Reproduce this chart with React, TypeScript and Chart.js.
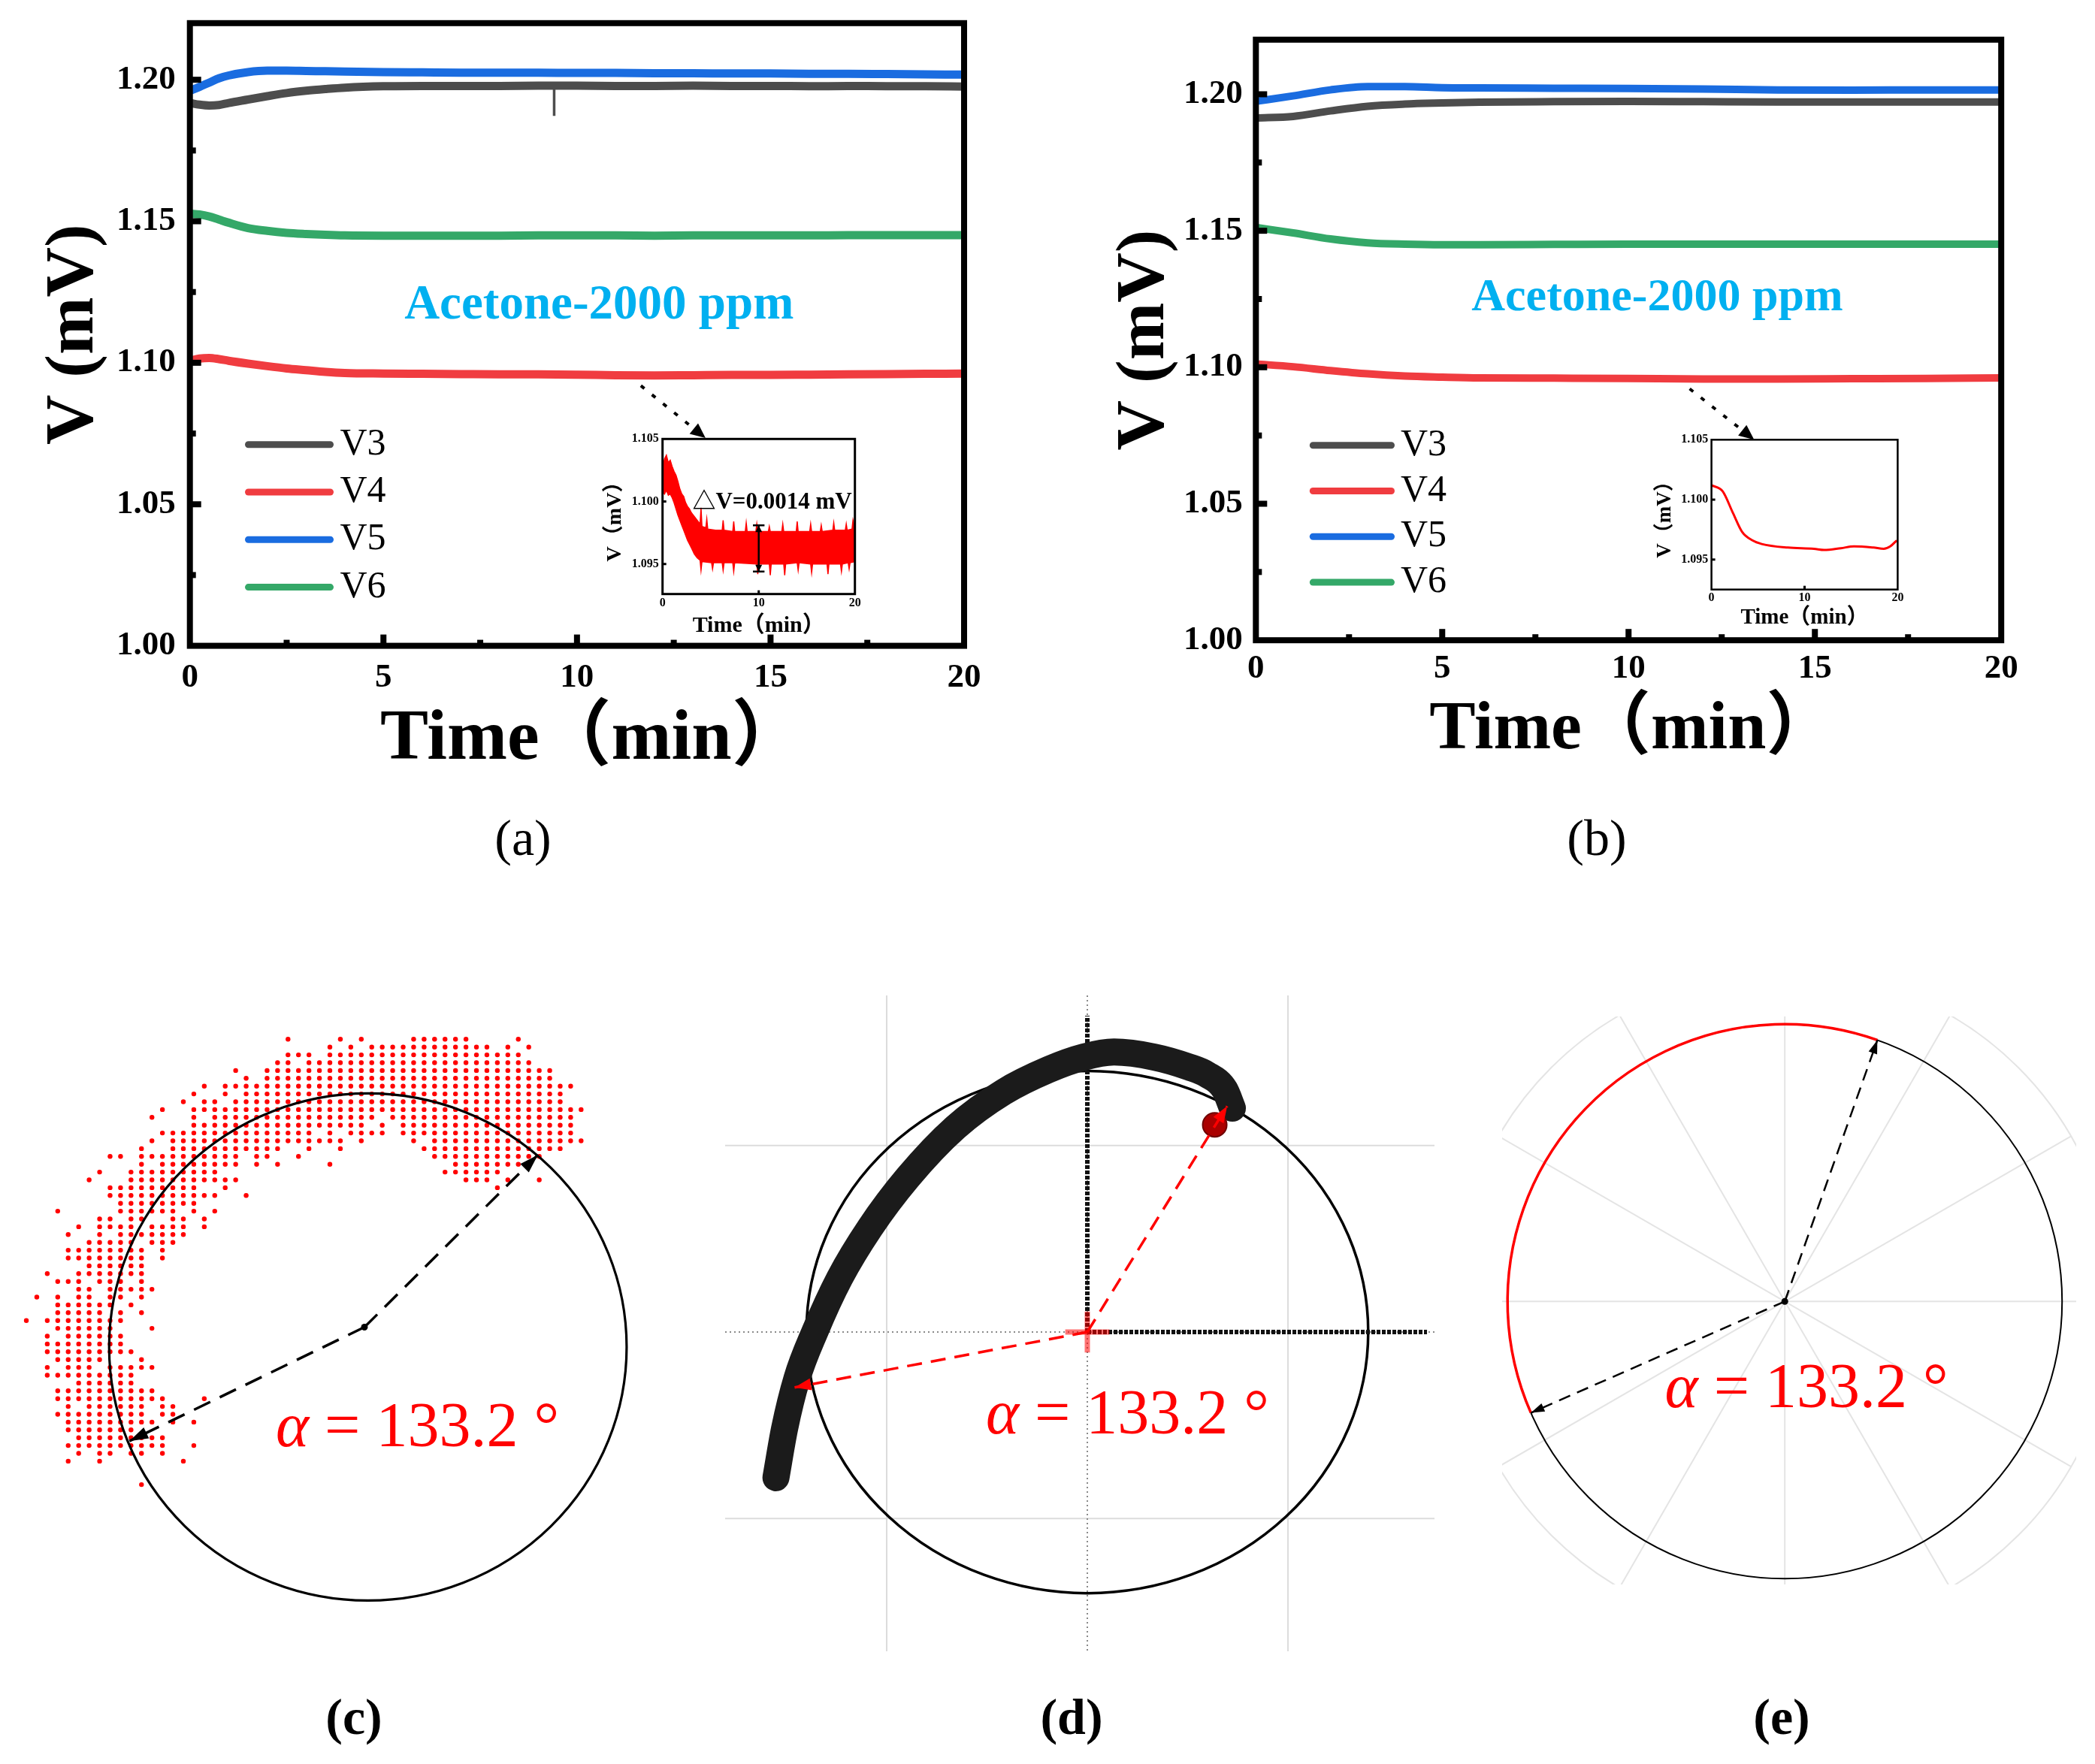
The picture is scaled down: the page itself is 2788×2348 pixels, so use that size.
import React, { useEffect, useRef } from "react";
import { Chart, registerables } from "chart.js";

Chart.register(...registerables);

const SERIF = '"Liberation Serif", "Times New Roman", "Noto Sans CJK SC", serif';

/* ================= (a) noisy sensor voltages ================= */
const timeA = [0, 0.25, 0.5, 0.75, 1, 1.5, 2, 2.5, 3, 3.5, 4, 5, 6, 7, 8, 9, 10, 11, 12, 13, 14, 15, 16, 17, 18, 19, 20];
const v3A = [1.1918, 1.1912, 1.1909, 1.1911, 1.1918, 1.193, 1.1942, 1.1953, 1.1961, 1.1967, 1.1972, 1.1977, 1.1978, 1.1978, 1.1978, 1.1979, 1.1979, 1.1978, 1.1978, 1.1979, 1.1978, 1.1978, 1.1977, 1.1978, 1.1977, 1.1977, 1.1976];
const v4A = [1.1007, 1.1015, 1.1017, 1.1013, 1.1007, 1.0997, 1.0988, 1.098, 1.0974, 1.0968, 1.0964, 1.0962, 1.0961, 1.096, 1.0959, 1.0959, 1.0958, 1.0956, 1.0955, 1.0956, 1.0957, 1.0957, 1.0958, 1.0959, 1.096, 1.0961, 1.0962];
const v5A = [1.1961, 1.1975, 1.199, 1.2005, 1.2015, 1.2027, 1.2032, 1.2032, 1.2031, 1.203, 1.2029, 1.2027, 1.2026, 1.2025, 1.2025, 1.2025, 1.2024, 1.2024, 1.2023, 1.2023, 1.2022, 1.2022, 1.2021, 1.2021, 1.202, 1.2019, 1.2018];
const v6A = [1.1527, 1.1524, 1.1517, 1.1506, 1.1495, 1.1476, 1.1466, 1.1459, 1.1455, 1.1452, 1.145, 1.1449, 1.1449, 1.1449, 1.1449, 1.145, 1.145, 1.145, 1.1449, 1.145, 1.145, 1.145, 1.145, 1.1451, 1.1451, 1.1451, 1.1451];
const spikeTimeA = [9.41, 9.41];
const spikeV3A = [1.1979, 1.1872];
const connTA = [11.65, 13.32];
const connVA = [1.0919, 1.0734];

/* (a) inset: V4 noise band (upper / lower envelope) */
const insetUpperT = [0, 0.2, 0.4, 0.6, 0.8, 1.0, 1.2, 1.4, 1.6, 1.8, 2.0, 2.2, 2.4, 2.6, 2.8, 3.0, 3.3, 3.6, 3.9, 4.0, 4.1, 4.5, 4.6, 4.7, 5.5, 6.2, 6.3, 6.4, 7.3, 7.4, 7.5, 8.6, 8.7, 8.8, 9.7, 9.8, 9.9, 11.0, 11.1, 11.2, 12.4, 12.5, 12.6, 13.9, 14.0, 14.1, 15.3, 15.4, 15.5, 16.4, 16.5, 16.6, 17.7, 17.8, 17.9, 19.0, 19.1, 19.2, 19.7, 19.8, 20.0];
const insetUpperV = [1.1026, 1.1034, 1.1037, 1.1031, 1.1033, 1.1028, 1.1024, 1.1021, 1.1016, 1.101, 1.1006, 1.1004, 1.0999, 1.0996, 1.0994, 1.0991, 1.0988, 1.0985, 1.0982, 1.0995, 1.098, 1.0979, 1.0986, 1.0978, 1.0977, 1.0977, 1.0985, 1.0977, 1.0976, 1.0984, 1.0976, 1.0976, 1.0983, 1.0976, 1.0976, 1.0982, 1.0976, 1.0976, 1.098, 1.0976, 1.0976, 1.0982, 1.0976, 1.0976, 1.0984, 1.0976, 1.0976, 1.0982, 1.0976, 1.0976, 1.0981, 1.0976, 1.0977, 1.0983, 1.0977, 1.0977, 1.0982, 1.0977, 1.0978, 1.0985, 1.0978];
const insetLowerT = [0, 0.2, 0.4, 0.6, 0.8, 1.0, 1.2, 1.4, 1.6, 1.8, 2.0, 2.2, 2.4, 2.6, 2.8, 3.0, 3.3, 3.6, 3.9, 4.0, 4.1, 5.1, 5.2, 5.3, 6.2, 6.3, 6.4, 7.3, 7.4, 7.5, 9.8, 9.9, 10.0, 11.1, 11.2, 11.3, 12.6, 12.7, 12.8, 14.0, 14.1, 14.2, 15.4, 15.5, 15.6, 17.1, 17.2, 17.3, 18.5, 18.6, 18.7, 19.3, 19.4, 19.5, 20.0];
const insetLowerV = [1.1008, 1.1006, 1.1009, 1.1005, 1.1006, 1.1003, 1.0999, 1.0994, 1.0989, 1.0985, 1.0981, 1.0977, 1.0973, 1.0969, 1.0966, 1.0963, 1.0958, 1.0955, 1.0953, 1.0945, 1.0952, 1.0951, 1.0946, 1.0951, 1.0951, 1.0945, 1.0951, 1.0951, 1.0944, 1.0951, 1.095, 1.0942, 1.095, 1.095, 1.0941, 1.095, 1.095, 1.0941, 1.095, 1.0951, 1.0945, 1.0951, 1.095, 1.0943, 1.095, 1.095, 1.0942, 1.095, 1.095, 1.0944, 1.095, 1.0951, 1.0946, 1.0951, 1.0952];
const deltaBarT = [10, 10];
const deltaBarV = [1.0981, 1.0944];
const deltaLabel = "△V=0.0014 mV";
const deltaLabelAt = [3.1, 1.0999];

/* ================= (b) filtered sensor voltages ================= */
const timeB = [0, 1, 2, 3, 4, 5, 6, 8, 10, 12, 14, 16, 18, 20];
const v3B = [1.1913, 1.1919, 1.1939, 1.1956, 1.1964, 1.1968, 1.1971, 1.1973, 1.1974, 1.1973, 1.1972, 1.1972, 1.1972, 1.1972];
const v4B = [1.1012, 1.1002, 1.0988, 1.0976, 1.0968, 1.0964, 1.0961, 1.096, 1.0959, 1.0957, 1.0957, 1.0958, 1.0959, 1.0961];
const v5B = [1.1974, 1.1994, 1.2016, 1.2028, 1.2028, 1.2024, 1.2023, 1.2022, 1.2021, 1.2019, 1.2016, 1.2015, 1.2016, 1.2016];
const v6B = [1.1512, 1.1492, 1.147, 1.1456, 1.1451, 1.1449, 1.1449, 1.145, 1.1451, 1.1451, 1.1451, 1.1451, 1.1451, 1.1451];
const connTB = [11.64, 13.37];
const connVB = [1.0921, 1.0735];
const insetBT = [0, 1.2, 2.3, 3.3, 4.4, 5.4, 8.2, 11, 12.1, 13.9, 15.3, 17.4, 18.5, 19.2, 19.9];
const insetBV = [1.1012, 1.1007, 1.0989, 1.0973, 1.0966, 1.0963, 1.096, 1.0959, 1.0958, 1.09595, 1.0961, 1.096, 1.0959, 1.0961, 1.0966];

/* ================= common axis data ================= */
const seriesNames = ["V3", "V4", "V5", "V6"];
const seriesColors = ["#4d4d4d", "#f03c40", "#1a6ce0", "#34a868"];
const yTicksMain = [1.0, 1.05, 1.1, 1.15, 1.2];
const yMinorMain = [1.025, 1.075, 1.125, 1.175];
const xTicksMain = [0, 5, 10, 15, 20];
const xMinorMain = [2.5, 7.5, 12.5, 17.5];
const yTicksInset = [1.095, 1.1, 1.105];
const xTicksInset = [0, 10, 20];
const gasLabel = "Acetone-2000 ppm";
const xTitle = "Time（min）";
const yTitle = "V (mV)";
const yTitleInset = "V（mV）";

/* ================= (c) raw 2-D signal lattice (row -> columns) ================= */
const cRows = [
  "0,5,7,12:17,22",
  "4,6,8:19,21,23",
  "0:2,4:22",
  "-1,0,2:23",
  "-5,-2:25",
  "-4,-2:25",
  "-8,-6:27",
  "-9,-6,-4:26",
  "-10,-8,-7,-5:26",
  "-12,-9:28",
  "-13,-9,-7:8,10:27",
  "-9:7,9,11:27",
  "-12:2,4,6:9,11:27",
  "-13,-11:5,7,12,14:28",
  "-14,-11:-1,2,5,13:26",
  "-17,-16,-14:-5,-3,-2,1,14:24",
  "-14,-12:-5,-3,-1,4,16:22",
  "-18,-15:-7,15:20",
  "-19,-15:-5,17:19,21,24",
  "-17:-9,-6,20",
  "-17:-7,-4",
  "-16:-9",
  "-22,-16:-11,-9,-7",
  "-18,-17,-15,-14,-11,-10,-8",
  "-20,-18:-15,-13:-10,-8",
  "-21,-18,-16:-10",
  "-19:-15,-13:-11",
  "-21:-14,-12",
  "-21:-14,-12",
  "-19:-14",
  "-23,-20:-14",
  "-22:-20,-18:-16,-14",
  "-20,-19,-17:-13",
  "-24,-22,-20,-19,-17,-16,-14",
  "-22:-17,-15",
  "-22:-18,-16,-14",
  "-25,-23:-16",
  "-22:-17,-13",
  "-23,-21:-16",
  "-23:-16",
  "-23:-15",
  "-22:-18,-14",
  "-23,-21:-19,-17:-13",
  "-23:-15",
  "-20:-15",
  "-22:-13",
  "-22:-12,-8",
  "-21,-19:-14,-12,-11",
  "-22:-14,-12,-11",
  "-21:-13,-11,-9",
  "-21:-15",
  "-20:-12",
  "-21:-12,-9",
  "-20,-18,-17,-15,-14,-12",
  "-21,-18,-10",
  "",
  "",
  "-14",
];
const cFitCenter = [7.63, 39.39];
const cFitRadii = [24.72, 32.45];
const cPivot = [7.3, 36.85];
const cTipA = [23.87, 14.81];
const cTipB = [-15.15, 51.43];

/* ================= (d) trajectory ================= */
const dTrajX = [-1.552, -1.509, -1.447, -1.359, -1.234, -1.083, -0.895, -0.657, -0.418, -0.193, -0.017, 0.133, 0.334, 0.509, 0.597, 0.685, 0.723];
const dTrajY = [-0.781, -0.518, -0.248, -0.001, 0.29, 0.559, 0.828, 1.097, 1.286, 1.407, 1.474, 1.501, 1.474, 1.42, 1.38, 1.299, 1.2];
const dEndPoint = [0.635, 1.111];
const dCircleR = 1.4;
const dTipA = [0.697, 1.211];
const dTipB = [-1.459, -0.297];
const dGrid = [-1, 0, 1];
const dPosAxisEnd = [1.693, 1.696];
const dCrossArm = 0.11;

/* ================= (e) angle ================= */
const alphaDeg = 133.2;
const eArcStartDeg = 70.5;
const eCircleR = 1;
const eGridR = 1.192;
const eSpokeStep = 30;

/* ================= helpers ================= */
const xy = (xs: number[], ys: number[]) => xs.map((x, i) => ({ x, y: ys[i] }));

function expandRuns(spec: string): number[] {
  if (!spec) return [];
  const out: number[] = [];
  for (const part of spec.split(",")) {
    const m = part.match(/^(-?\d+):(-?\d+)$/);
    if (m) {
      for (let k = +m[1]; k <= +m[2]; k++) out.push(k);
    } else out.push(+part);
  }
  return out;
}
const cDots = cRows.flatMap((spec, r) => expandRuns(spec).map((k) => ({ x: k, y: r })));

function seg(ctx: CanvasRenderingContext2D, a: number, b: number, c: number, d: number) {
  ctx.beginPath();
  ctx.moveTo(a, b);
  ctx.lineTo(c, d);
  ctx.stroke();
}

function arrowHead(ctx: CanvasRenderingContext2D, x1: number, y1: number, x2: number, y2: number, len: number, half: number, color: string) {
  const ang = Math.atan2(y2 - y1, x2 - x1);
  const c = Math.cos(ang), s = Math.sin(ang);
  ctx.save();
  ctx.setLineDash([]);
  ctx.fillStyle = color;
  ctx.beginPath();
  ctx.moveTo(x2, y2);
  ctx.lineTo(x2 - len * c + half * s, y2 - len * s - half * c);
  ctx.lineTo(x2 - len * c - half * s, y2 - len * s + half * c);
  ctx.closePath();
  ctx.fill();
  ctx.restore();
}

function makeDecor(cfg: any) {
  return {
    id: "decor",
    beforeDatasetsDraw(chart: any) {
      if (cfg.before) {
        chart.ctx.save();
        cfg.before(chart, chart.ctx);
        chart.ctx.restore();
      }
    },
    afterDatasetDraw(chart: any, args: any) {
      if (cfg.afterDataset) {
        chart.ctx.save();
        cfg.afterDataset(chart, chart.ctx, args.index);
        chart.ctx.restore();
      }
    },
    afterDatasetsDraw(chart: any) {
      const ctx = chart.ctx;
      ctx.save();
      if (cfg.after) cfg.after(chart, ctx);
      chart.data.datasets.forEach((ds: any, i: number) => {
        if (!ds.arrowHead) return;
        const pts = chart.getDatasetMeta(i).data;
        const p1 = pts[pts.length - 2], p2 = pts[pts.length - 1];
        arrowHead(ctx, p1.x, p1.y, p2.x, p2.y, ds.arrowHead.len, ds.arrowHead.half, ds.borderColor);
      });
      ctx.restore();
    },
  };
}

function frame(ctx: CanvasRenderingContext2D, ca: any, lw: number) {
  ctx.save();
  ctx.setLineDash([]);
  ctx.strokeStyle = "#000";
  ctx.lineWidth = lw;
  ctx.strokeRect(ca.left, ca.top, ca.right - ca.left, ca.bottom - ca.top);
  ctx.restore();
}

function inwardTicks(ctx: CanvasRenderingContext2D, chart: any, t: any) {
  const { chartArea: ca, scales } = chart;
  const x = scales.x, y = scales.y;
  ctx.save();
  ctx.strokeStyle = "#000";
  ctx.lineWidth = t.width;
  ctx.lineCap = "butt";
  ctx.setLineDash([]);
  t.xMajor.forEach((v: number) => { const p = x.getPixelForValue(v); seg(ctx, p, ca.bottom, p, ca.bottom - t.major); });
  t.xMinor.forEach((v: number) => { const p = x.getPixelForValue(v); seg(ctx, p, ca.bottom, p, ca.bottom - t.minor); });
  t.yMajor.forEach((v: number) => { const p = y.getPixelForValue(v); seg(ctx, ca.left, p, ca.left + t.major, p); });
  t.yMinor.forEach((v: number) => { const p = y.getPixelForValue(v); seg(ctx, ca.left, p, ca.left + t.minor, p); });
  ctx.restore();
}

function alphaLabel(ctx: CanvasRenderingContext2D, x: number, y: number, size: number) {
  ctx.save();
  ctx.fillStyle = "#ff0000";
  ctx.textAlign = "left";
  ctx.textBaseline = "alphabetic";
  ctx.font = `italic ${size}px ${SERIF}`;
  ctx.fillText("α", x, y);
  const w = ctx.measureText("α").width;
  ctx.font = `${size}px ${SERIF}`;
  ctx.fillText(` = ${alphaDeg} °`, x + w, y);
  ctx.restore();
}

const baseOpts = {
  animation: false,
  responsive: false,
  maintainAspectRatio: false,
  devicePixelRatio: 1,
  events: [],
};

/* ================= main panels (a)/(b) ================= */
function mainConfig(series: { t: number[]; v: number[] }[], extra: any[], conn: { t: number[]; v: number[] }, L: any) {
  const datasets: any[] = series.map((s, i) => ({
    data: xy(s.t, s.v),
    borderColor: seriesColors[i],
    borderWidth: L.lineWidth,
    pointRadius: 0,
    cubicInterpolationMode: "monotone",
    borderCapStyle: "round",
    borderJoinStyle: "round",
    fill: false,
    order: 2,
  }));
  datasets.push(...extra);
  datasets.push({
    data: xy(conn.t, conn.v),
    borderColor: "#000",
    borderWidth: 4,
    borderDash: [6, 13],
    pointRadius: 0,
    fill: false,
    arrowHead: { len: 20, half: 9 },
    order: 0,
  });
  return {
    type: "line",
    data: { datasets },
    options: {
      ...baseOpts,
      layout: { autoPadding: false, padding: { left: 0, top: L.padTop, right: L.padRight, bottom: 0 } },
      plugins: { legend: { display: false }, tooltip: { enabled: false } },
      scales: {
        x: {
          type: "linear",
          min: 0,
          max: 20,
          afterBuildTicks: (s: any) => { s.ticks = xTicksMain.map((v) => ({ value: v })); },
          afterFit: (s: any) => { s.height = L.xH; s.paddingLeft = 0; s.paddingRight = 0; },
          grid: { display: false, drawTicks: false },
          border: { display: false },
          ticks: { color: "#000", padding: L.xTickPad, maxRotation: 0, autoSkip: false, font: { family: SERIF, size: 45, weight: "bold", lineHeight: 1 }, callback: (v: any) => String(v) },
          title: { display: false, text: xTitle },
        },
        y: {
          type: "linear",
          min: 1.0,
          max: 1.22,
          afterBuildTicks: (s: any) => { s.ticks = yTicksMain.map((v) => ({ value: v })); },
          afterFit: (s: any) => { s.width = L.yW; s.paddingTop = 0; s.paddingBottom = 0; },
          grid: { display: false, drawTicks: false },
          border: { display: false },
          ticks: { color: "#000", padding: L.yTickPad, autoSkip: false, font: { family: SERIF, size: 45, weight: "bold", lineHeight: 1 }, callback: (v: any) => Number(v).toFixed(2) },
          title: { display: true, text: yTitle, color: "#000", font: { family: SERIF, size: 92, weight: "bold", lineHeight: 1 }, padding: { top: L.yTitlePad, bottom: 0 } },
        },
      },
    },
    plugins: [
      makeDecor({
        after(chart: any, ctx: CanvasRenderingContext2D) {
          const ca = chart.chartArea;
          const { x, y } = chart.scales;
          frame(ctx, ca, 8);
          inwardTicks(ctx, chart, {
            xMajor: xTicksMain.slice(1, -1), xMinor: xMinorMain,
            yMajor: yTicksMain.slice(1), yMinor: yMinorMain,
            major: 15, minor: 8, width: 8,
          });
          // x-axis title
          ctx.save();
          ctx.fillStyle = "#000";
          ctx.font = `bold ${L.xTitleSize}px ${SERIF}`;
          ctx.textAlign = "center";
          ctx.textBaseline = "middle";
          ctx.fillText(xTitle, (ca.left + ca.right) / 2 + L.xTitleDx, L.xTitleY);
          ctx.restore();
          // legend
          seriesNames.forEach((name, i) => {
            const yy = ca.top + L.legend.top + i * L.legend.gap;
            const x0 = ca.left + L.legend.left;
            const x1 = x0 + L.legend.len;
            ctx.save();
            ctx.strokeStyle = seriesColors[i];
            ctx.lineWidth = 9;
            ctx.lineCap = "round";
            seg(ctx, x0, yy, x1, yy);
            ctx.fillStyle = "#000";
            ctx.font = `50px ${SERIF}`;
            ctx.textAlign = "left";
            ctx.textBaseline = "middle";
            ctx.fillText(name, x1 + L.legend.textGap, yy);
            ctx.restore();
          });
          // gas label
          ctx.save();
          ctx.fillStyle = "#00B0F0";
          ctx.font = `bold ${L.gasSize}px ${SERIF}`;
          ctx.textAlign = "center";
          ctx.textBaseline = "middle";
          ctx.fillText(gasLabel, x.getPixelForValue(L.gasAt[0]), y.getPixelForValue(L.gasAt[1]));
          ctx.restore();
        },
      }),
    ],
  };
}

function insetConfig(datasets: any[], L: any, extraDraw?: (chart: any, ctx: CanvasRenderingContext2D) => void) {
  return {
    type: "line",
    data: { datasets },
    options: {
      ...baseOpts,
      layout: { autoPadding: false, padding: { left: 0, top: L.padTop, right: L.padRight, bottom: 0 } },
      plugins: { legend: { display: false }, tooltip: { enabled: false } },
      scales: {
        x: {
          type: "linear",
          min: 0,
          max: 20,
          afterBuildTicks: (s: any) => { s.ticks = xTicksInset.map((v) => ({ value: v })); },
          afterFit: (s: any) => { s.height = L.xH; s.paddingLeft = 0; s.paddingRight = 0; },
          grid: { display: false, drawTicks: false },
          border: { display: false },
          ticks: { color: "#000", padding: L.xTickPad, maxRotation: 0, autoSkip: false, font: { family: SERIF, size: 16, weight: "bold", lineHeight: 1 }, callback: (v: any) => String(v) },
          title: { display: true, text: xTitle, color: "#000", font: { family: SERIF, size: L.titleSize, weight: "bold", lineHeight: 1 }, padding: { top: 0, bottom: L.xTitlePad } },
        },
        y: {
          type: "linear",
          min: L.yMin,
          max: 1.105,
          afterBuildTicks: (s: any) => { s.ticks = yTicksInset.map((v) => ({ value: v })); },
          afterFit: (s: any) => { s.width = L.yW; s.paddingTop = 0; s.paddingBottom = 0; },
          grid: { display: false, drawTicks: false },
          border: { display: false },
          ticks: { color: "#000", padding: L.yTickPad, autoSkip: false, font: { family: SERIF, size: 16, weight: "bold", lineHeight: 1 }, callback: (v: any) => Number(v).toFixed(3) },
          title: { display: true, text: yTitleInset, color: "#000", font: { family: SERIF, size: L.yTitleSize, weight: "bold", lineHeight: 1 }, padding: { top: L.yTitlePad, bottom: 0 } },
        },
      },
    },
    plugins: [
      makeDecor({
        after(chart: any, ctx: CanvasRenderingContext2D) {
          frame(ctx, chart.chartArea, L.frameW);
          inwardTicks(ctx, chart, { xMajor: [10], xMinor: [], yMajor: [1.095, 1.1], yMinor: [], major: 5, minor: 3, width: 3 });
          if (extraDraw) extraDraw(chart, ctx);
        },
      }),
    ],
  };
}

function configA() {
  return mainConfig(
    [v3A, v4A, v5A, v6A].map((v) => ({ t: timeA, v })),
    [{ data: xy(spikeTimeA, spikeV3A), borderColor: seriesColors[0], borderWidth: 3.5, pointRadius: 0, fill: false, order: 2 }],
    { t: connTA, v: connVA },
    {
      padTop: 30.8, padRight: 117, yW: 252.7, xH: 200.4,
      xTickPad: 20, yTickPad: 19, xTitleSize: 96, xTitleDx: 20, xTitleY: 985, yTitlePad: 53, lineWidth: 11,
      legend: { left: 77.8, top: 560.9, len: 109, gap: 63.3, textGap: 13 },
      gasAt: [10.57, 1.1202], gasSize: 65,
    }
  );
}

function configB() {
  return mainConfig(
    [v3B, v4B, v5B, v6B].map((v) => ({ t: timeB, v })),
    [],
    { t: connTB, v: connVB },
    {
      padTop: 52.8, padRight: 124.8, yW: 251.3, xH: 207.8,
      xTickPad: 16, yTickPad: 17.5, xTitleSize: 92, xTitleDx: 5, xTitleY: 972, yTitlePad: 58.7, lineWidth: 10,
      legend: { left: 76, top: 539.9, len: 104.2, gap: 60.8, textGap: 12.5 },
      gasAt: [10.77, 1.1254], gasSize: 62,
    }
  );
}

const errCapHalf = 0.6;
function configAInset() {
  const mid = (deltaBarV[0] + deltaBarV[1]) / 2;
  const bar = { borderColor: "#000", borderWidth: 2.5, pointRadius: 0, fill: false, order: 0 };
  return insetConfig(
    [
      { data: xy(insetUpperT, insetUpperV), borderColor: "#ff0000", backgroundColor: "#ff0000", borderWidth: 1.5, pointRadius: 0, fill: "+1", order: 1 },
      { data: xy(insetLowerT, insetLowerV), borderColor: "#ff0000", borderWidth: 1.5, pointRadius: 0, fill: false, order: 1 },
      { ...bar, data: xy([deltaBarT[0], deltaBarT[0]], [mid, deltaBarV[0]]), arrowHead: { len: 9, half: 4.5 } },
      { ...bar, data: xy([deltaBarT[1], deltaBarT[1]], [mid, deltaBarV[1]]), arrowHead: { len: 9, half: 4.5 } },
      { ...bar, data: xy([deltaBarT[0] - errCapHalf, deltaBarT[0] + errCapHalf], [deltaBarV[0], deltaBarV[0]]) },
      { ...bar, data: xy([deltaBarT[1] - errCapHalf, deltaBarT[1] + errCapHalf], [deltaBarV[1], deltaBarV[1]]) },
    ],
    {
      padTop: 24.3, padRight: 42.3, yW: 101.7, xH: 69.3, yMin: 1.0926,
      xTickPad: 4.6, yTickPad: 5, xTitlePad: 12, yTitlePad: 25, titleSize: 30, yTitleSize: 28, frameW: 3,
    },
    (chart, ctx) => {
      const { x, y } = chart.scales;
      ctx.save();
      ctx.fillStyle = "#000";
      ctx.font = `bold 31px ${SERIF}`;
      ctx.textAlign = "left";
      ctx.textBaseline = "middle";
      ctx.fillText(deltaLabel, x.getPixelForValue(deltaLabelAt[0]), y.getPixelForValue(deltaLabelAt[1]));
      ctx.restore();
    }
  );
}

function configBInset() {
  return insetConfig(
    [{ data: xy(insetBT, insetBV), borderColor: "#ff0000", borderWidth: 3, pointRadius: 0, cubicInterpolationMode: "monotone", fill: false }],
    {
      padTop: 25.3, padRight: 54.6, yW: 97.6, xH: 75.3, yMin: 1.0925,
      xTickPad: 3, yTickPad: 4.3, xTitlePad: 23, yTitlePad: 23, titleSize: 29, yTitleSize: 27, frameW: 2.5,
    }
  );
}

/* ================= (c) ================= */
function hiddenScales(xMin: number, xMax: number, yMin: number, yMax: number, reverseY = false) {
  return {
    x: { type: "linear", display: false, min: xMin, max: xMax },
    y: { type: "linear", display: false, min: yMin, max: yMax, reverse: reverseY },
  };
}

const hiddenLayout = { autoPadding: false, padding: 0 };

function configC() {
  const dash = { showLine: true, borderColor: "#000", borderWidth: 3.5, borderDash: [24, 14], pointRadius: 0, fill: false, order: 0 };
  return {
    type: "scatter",
    data: {
      datasets: [
        { data: cDots, pointRadius: 3.2, backgroundColor: "#ff0000", borderWidth: 0, order: 5 },
        { ...dash, data: [{ x: cPivot[0], y: cPivot[1] }, { x: cTipA[0], y: cTipA[1] }], arrowHead: { len: 25, half: 8 } },
        { ...dash, data: [{ x: cPivot[0], y: cPivot[1] }, { x: cTipB[0], y: cTipB[1] }], arrowHead: { len: 25, half: 8 } },
        { data: [{ x: cPivot[0], y: cPivot[1] }], pointRadius: 4.5, backgroundColor: "#000", borderWidth: 0, order: 0 },
      ],
    },
    options: {
      ...baseOpts,
      layout: hiddenLayout,
      plugins: { legend: { display: false }, tooltip: { enabled: false } },
      scales: hiddenScales(-27.516, 37.093, -4.163, 74.683, true),
    },
    plugins: [
      makeDecor({
        afterDataset(chart: any, ctx: CanvasRenderingContext2D, index: number) {
          if (index !== 0) return;
          const { x, y } = chart.scales;
          const cx = x.getPixelForValue(cFitCenter[0]);
          const cy = y.getPixelForValue(cFitCenter[1]);
          const rx = Math.abs(x.getPixelForValue(cFitCenter[0] + cFitRadii[0]) - cx);
          const ry = Math.abs(y.getPixelForValue(cFitCenter[1] + cFitRadii[1]) - cy);
          ctx.strokeStyle = "#000";
          ctx.lineWidth = 3.2;
          ctx.beginPath();
          ctx.ellipse(cx, cy, rx, ry, 0, 0, Math.PI * 2);
          ctx.stroke();
        },
        after(chart: any, ctx: CanvasRenderingContext2D) {
          const { x, y } = chart.scales;
          alphaLabel(ctx, x.getPixelForValue(-1.17), y.getPixelForValue(52.09), 84);
        },
      }),
    ],
  };
}

/* ================= (d) ================= */
function configD() {
  const red = { showLine: true, borderColor: "#ff0000", borderWidth: 3.5, borderDash: [20, 12], pointRadius: 0, fill: false, order: 0 };
  const cross = { showLine: true, borderColor: "rgba(255,0,0,0.55)", borderWidth: 7, pointRadius: 0, fill: false, order: 1 };
  const posAxis = { showLine: true, borderColor: "#111", borderWidth: 6, borderDash: [5, 2], pointRadius: 0, fill: false, order: 4 };
  return {
    type: "scatter",
    data: {
      datasets: [
        { ...posAxis, data: [{ x: 0, y: 0 }, { x: 0, y: dPosAxisEnd[1] }] },
        { ...posAxis, data: [{ x: 0, y: 0 }, { x: dPosAxisEnd[0], y: 0 }] },
        { data: xy(dTrajX, dTrajY), showLine: true, borderColor: "#1b1b1b", borderWidth: 36, borderCapStyle: "round", borderJoinStyle: "round", cubicInterpolationMode: "monotone", pointRadius: 0, fill: false, order: 3 },
        { data: [{ x: dEndPoint[0], y: dEndPoint[1] }], pointRadius: 16, backgroundColor: "rgb(170,0,0)", borderColor: "rgb(110,0,0)", borderWidth: 2, order: 2 },
        { ...cross, data: [{ x: -dCrossArm, y: 0 }, { x: dCrossArm, y: 0 }] },
        { ...cross, data: [{ x: 0, y: dCrossArm }, { x: 0, y: -dCrossArm }] },
        { ...red, data: [{ x: 0, y: 0 }, { x: dTipA[0], y: dTipA[1] }], arrowHead: { len: 22, half: 8 } },
        { ...red, data: [{ x: 0, y: 0 }, { x: dTipB[0], y: dTipB[1] }], arrowHead: { len: 22, half: 8 } },
      ],
    },
    options: {
      ...baseOpts,
      layout: hiddenLayout,
      plugins: { legend: { display: false }, tooltip: { enabled: false } },
      scales: hiddenScales(-1.8052, 1.7303, -1.7116, 1.8043),
    },
    plugins: [
      makeDecor({
        before(chart: any, ctx: CanvasRenderingContext2D) {
          const ca = chart.chartArea;
          const { x, y } = chart.scales;
          dGrid.forEach((g) => {
            ctx.strokeStyle = g === 0 ? "#8a8a8a" : "#dcdcdc";
            ctx.lineWidth = 2;
            ctx.setLineDash(g === 0 ? [2, 4] : []);
            const px = x.getPixelForValue(g);
            seg(ctx, px, ca.top, px, ca.bottom);
            const py = y.getPixelForValue(g);
            seg(ctx, ca.left, py, ca.right, py);
          });
          ctx.setLineDash([]);
          const cx = x.getPixelForValue(0), cy = y.getPixelForValue(0);
          const rx = x.getPixelForValue(dCircleR) - cx;
          const ry = cy - y.getPixelForValue(dCircleR);
          ctx.strokeStyle = "#000";
          ctx.lineWidth = 3.5;
          ctx.beginPath();
          ctx.ellipse(cx, cy, rx, ry, 0, 0, Math.PI * 2);
          ctx.stroke();
        },
        after(chart: any, ctx: CanvasRenderingContext2D) {
          const { x, y } = chart.scales;
          alphaLabel(ctx, x.getPixelForValue(-0.506), y.getPixelForValue(-0.544), 84);
        },
      }),
    ],
  };
}

/* ================= (e) ================= */
function configE() {
  const rad = (d: number) => (d * Math.PI) / 180;
  const endA = eArcStartDeg, endB = eArcStartDeg + alphaDeg;
  const dash = { showLine: true, borderColor: "#000", borderWidth: 2.5, borderDash: [16, 10], pointRadius: 0, fill: false, order: 0 };
  return {
    type: "scatter",
    data: {
      datasets: [
        { ...dash, data: [{ x: 0, y: 0 }, { x: eCircleR * Math.cos(rad(endA)), y: eCircleR * Math.sin(rad(endA)) }], arrowHead: { len: 18, half: 6 } },
        { ...dash, data: [{ x: 0, y: 0 }, { x: eCircleR * Math.cos(rad(endB)), y: eCircleR * Math.sin(rad(endB)) }], arrowHead: { len: 18, half: 6 } },
        { data: [{ x: 0, y: 0 }], pointRadius: 4.5, backgroundColor: "#000", borderWidth: 0, order: 0 },
      ],
    },
    options: {
      ...baseOpts,
      layout: hiddenLayout,
      plugins: { legend: { display: false }, tooltip: { enabled: false } },
      scales: hiddenScales(-1.0195, 1.0509, -1.0209, 1.0279),
    },
    plugins: [
      makeDecor({
        before(chart: any, ctx: CanvasRenderingContext2D) {
          const ca = chart.chartArea;
          const { x, y } = chart.scales;
          const cx = x.getPixelForValue(0), cy = y.getPixelForValue(0);
          const gR = x.getPixelForValue(eGridR) - cx;
          const R = x.getPixelForValue(eCircleR) - cx;
          ctx.save();
          ctx.beginPath();
          ctx.rect(ca.left, ca.top, ca.right - ca.left, ca.bottom - ca.top);
          ctx.clip();
          ctx.strokeStyle = "#e4e4e4";
          ctx.lineWidth = 2;
          for (let d = 0; d < 360; d += eSpokeStep) {
            seg(ctx, cx, cy, cx + gR * Math.cos(rad(d)), cy - gR * Math.sin(rad(d)));
          }
          ctx.beginPath();
          ctx.arc(cx, cy, gR, 0, Math.PI * 2);
          ctx.stroke();
          ctx.restore();
          ctx.strokeStyle = "#000";
          ctx.lineWidth = 2;
          ctx.beginPath();
          ctx.arc(cx, cy, R, 0, Math.PI * 2);
          ctx.stroke();
          ctx.strokeStyle = "#ff0000";
          ctx.lineWidth = 3.5;
          ctx.beginPath();
          ctx.arc(cx, cy, R, -rad(endA), -rad(endB), true);
          ctx.stroke();
        },
        after(chart: any, ctx: CanvasRenderingContext2D) {
          const { x, y } = chart.scales;
          alphaLabel(ctx, x.getPixelForValue(-0.4325), y.getPixelForValue(-0.3824), 84);
        },
      }),
    ],
  };
}

/* ================= layout ================= */
const CANVASES = [
  { key: "a", left: 0, top: 0, w: 1400, h: 1060, make: configA },
  { key: "ai", left: 780, top: 560, w: 400, h: 300, make: configAInset },
  { key: "b", left: 1420, top: 0, w: 1368, h: 1060, make: configB },
  { key: "bi", left: 2180, top: 560, w: 400, h: 300, make: configBInset },
  { key: "c", left: 0, top: 1340, w: 900, h: 820, make: configC },
  { key: "d", left: 965, top: 1325, w: 944, h: 873, make: configD },
  { key: "e", left: 1999, top: 1353, w: 764, h: 756, make: configE },
];

const PANEL_LABELS = [
  { text: "(a)", x: 696, y: 1118, bold: false },
  { text: "(b)", x: 2125, y: 1118, bold: false },
  { text: "(c)", x: 471, y: 2288, bold: true },
  { text: "(d)", x: 1426, y: 2288, bold: true },
  { text: "(e)", x: 2371, y: 2288, bold: true },
];

function ChartCanvas({ spec }: { spec: any }) {
  const ref = useRef<HTMLCanvasElement>(null);
  useEffect(() => {
    const chart = new Chart(ref.current as HTMLCanvasElement, spec.make() as any);
    return () => chart.destroy();
  }, [spec]);
  return (
    <canvas
      ref={ref}
      width={spec.w}
      height={spec.h}
      style={{ position: "absolute", left: spec.left, top: spec.top, width: spec.w, height: spec.h }}
    />
  );
}

export default function App() {
  return (
    <div style={{ position: "absolute", left: 0, top: 0, width: 2788, height: 2348, background: "#fff", overflow: "hidden" }}>
      {CANVASES.map((s) => (
        <ChartCanvas key={s.key} spec={s} />
      ))}
      {PANEL_LABELS.map((l) => (
        <div
          key={l.text}
          style={{
            position: "absolute",
            left: l.x,
            top: l.y,
            transform: "translate(-50%, -55%)",
            fontFamily: SERIF,
            fontSize: 68,
            lineHeight: 1,
            fontWeight: l.bold ? "bold" : "normal",
            whiteSpace: "nowrap",
            color: "#000",
          }}
        >
          {l.text}
        </div>
      ))}
    </div>
  );
}
